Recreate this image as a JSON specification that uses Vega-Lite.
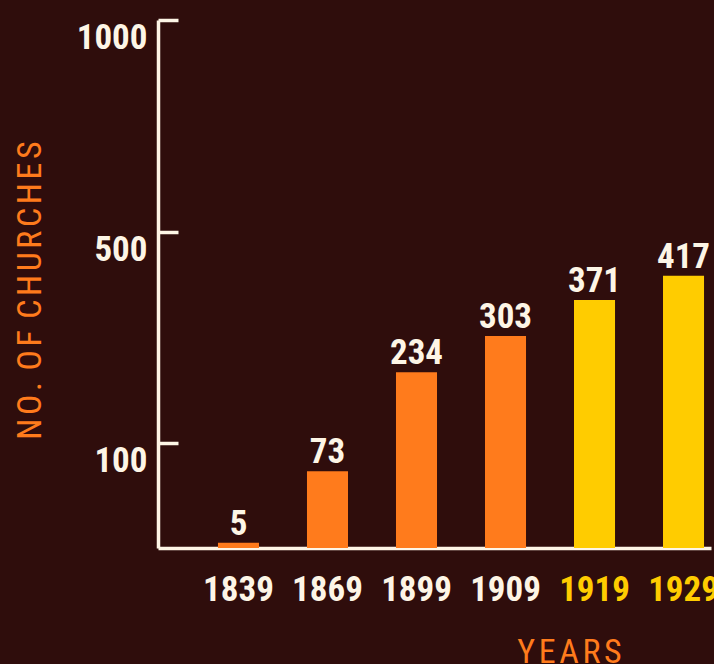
{
  "$schema": "https://vega.github.io/schema/vega-lite/v6.json",
  "width": 553,
  "height": 528,
  "autosize": "none",
  "padding": {"left": 158, "top": 20, "right": 3, "bottom": 116},
  "background": "#2f0d0c",
  "config": {
    "view": {"stroke": null},
    "font": "Roboto Condensed, DejaVu Sans Condensed, sans-serif"
  },
  "data": {
    "values": [
      {"year": 1839, "churches": 5},
      {"year": 1869, "churches": 73},
      {"year": 1899, "churches": 234},
      {"year": 1909, "churches": 303},
      {"year": 1919, "churches": 371},
      {"year": 1929, "churches": 417}
    ]
  },
  "encoding": {
    "x": {
      "field": "year",
      "type": "ordinal",
      "scale": {"paddingInner": 0.539, "paddingOuter": 0.376, "align": 0.896},
      "axis": {
        "title": "Y\u200aE\u200aA\u200aR\u200aS",
        "titleColor": "#ff7b1c",
        "titleFontSize": 34,
        "titleFontWeight": "normal",
        "titleX": 411,
        "titleY": 114,
        "titleAlign": "center",
        "titleBaseline": "alphabetic",
        "labelAngle": 0,
        "ticks": false,
        "tickSize": 0,
        "domainColor": "#fdf5e6",
        "domainWidth": 3.5,
        "labelPadding": 52,
        "labelBaseline": "alphabetic",
        "labelFontSize": 35,
        "labelFontWeight": "bold",
        "labelColor": {"condition": {"test": "datum.value >= 1919", "value": "#ffcc00"}, "value": "#fdf5e6"}
      }
    },
    "y": {
      "field": "churches",
      "type": "quantitative",
      "scale": {"domain": [0, 100, 500, 1000], "range": [528, 423, 212, 0], "nice": false},
      "axis": {
        "values": [100, 500, 1000],
        "format": "d",
        "grid": false,
        "title": "N\u200aO\u200a.\u200a O\u200aF\u200a C\u200aH\u200aU\u200aR\u200aC\u200aH\u200aE\u200aS",
        "titleColor": "#ff7b1c",
        "titleFontSize": 34,
        "titleFontWeight": "normal",
        "titleX": -118,
        "titleY": 270,
        "titleAngle": -90,
        "titleAlign": "center",
        "titleBaseline": "alphabetic",
        "domainColor": "#fdf5e6",
        "domainWidth": 3.5,
        "tickColor": "#fdf5e6",
        "tickWidth": 3.5,
        "tickSize": -20,
        "labelColor": "#fdf5e6",
        "labelFontSize": 35,
        "labelFontWeight": "bold",
        "labelBaseline": "top",
        "labelPadding": 31,
        "labelFlush": false
      }
    }
  },
  "layer": [
    {
      "mark": {"type": "bar"},
      "encoding": {
        "color": {"condition": {"test": "datum.year >= 1919", "value": "#ffcc00"}, "value": "#ff7b1c"}
      }
    },
    {
      "mark": {"type": "text", "baseline": "alphabetic", "dy": -8, "fontSize": 35, "fontWeight": "bold", "color": "#fdf5e6", "align": "center"},
      "encoding": {
        "text": {"field": "churches", "type": "quantitative"}
      }
    }
  ]
}
